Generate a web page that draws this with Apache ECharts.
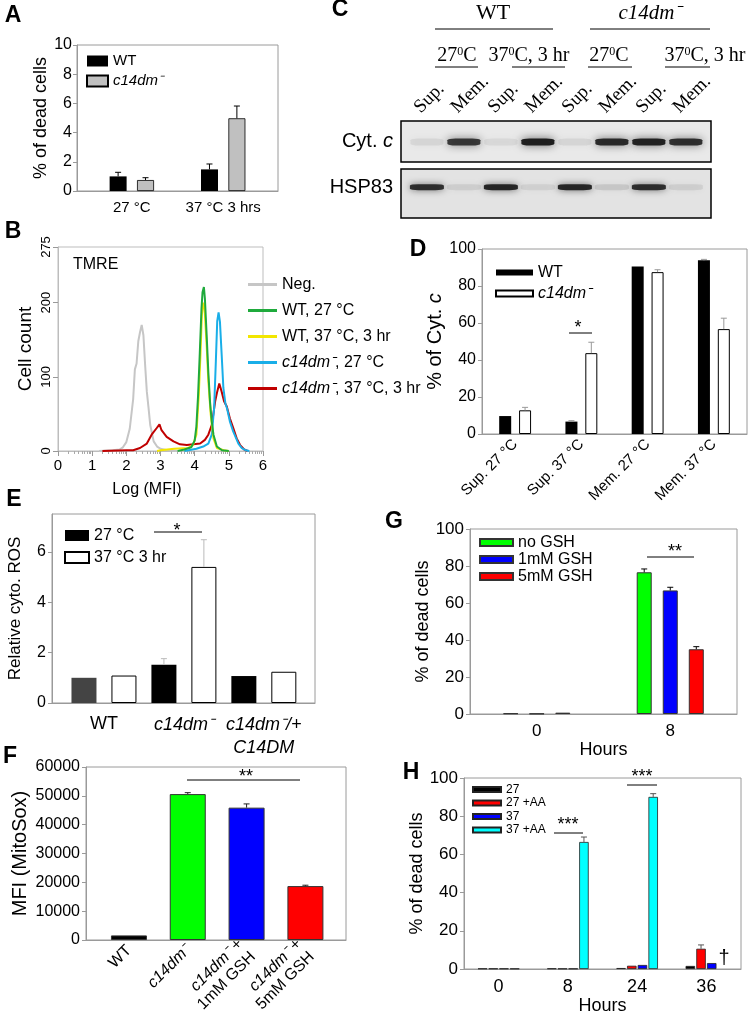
<!DOCTYPE html>
<html><head><meta charset="utf-8">
<script src="https://cdn.jsdelivr.net/npm/echarts@6/dist/echarts.min.js"></script>
<style>html,body{margin:0;padding:0;background:#fff}#c{width:750px;height:1022px}</style>
</head><body><div id="c"></div>
<script>
// ================= DATA =================
// Panel A
const aCategories = ['27 °C', '37 °C 3 hrs'];
const aWT = [1.0, 1.48];
const aWTErr = [0.28, 0.37];
const aMut = [0.75, 4.98];
const aMutErr = [0.16, 0.84];

// Panel B: histograms [log(MFI), cell count]
const bNeg = [[1.2,0],[1.6,1],[1.8,2],[1.9,5],[2.0,12],[2.1,30],[2.2,70],[2.25,110],[2.3,118],[2.35,148],[2.4,160],[2.45,170],[2.5,156],[2.55,116],[2.6,80],[2.65,58],[2.7,35],[2.8,13],[2.9,6],[3.0,3],[3.2,1],[3.5,0]];
const bWT27 = [[3.5,0],[3.7,2],[3.9,5],[4.0,14],[4.05,33],[4.1,75],[4.15,132],[4.2,192],[4.23,214],[4.27,221],[4.3,205],[4.35,157],[4.4,106],[4.45,66],[4.5,40],[4.55,22],[4.65,6],[4.8,1],[5.0,0]];
const bWT37 = [[2.9,0],[3.0,1],[3.4,3],[3.8,4],[3.95,8],[4.05,22],[4.12,75],[4.17,130],[4.21,183],[4.25,200],[4.29,192],[4.35,143],[4.4,94],[4.47,49],[4.55,17],[4.65,4],[4.85,1],[5.0,0]];
const bMut27 = [[3.7,0],[4.05,3],[4.25,6],[4.4,10],[4.5,22],[4.57,58],[4.62,121],[4.66,175],[4.7,187],[4.74,174],[4.79,130],[4.84,85],[4.9,64],[4.95,57],[5.03,40],[5.13,26],[5.28,10],[5.38,4],[5.5,1],[5.6,0]];
const bMut37 = [[1.3,0],[2.0,1],[2.2,1],[2.4,4],[2.6,10],[2.74,22],[2.89,31],[2.97,36],[3.03,28],[3.18,19],[3.38,13],[3.57,9],[3.77,8],[3.96,9],[4.16,10],[4.3,15],[4.4,22],[4.5,35],[4.6,67],[4.66,80],[4.72,91],[4.79,80],[4.86,67],[4.94,60],[5.03,44],[5.13,31],[5.23,17],[5.33,8],[5.45,2],[5.55,0]];
const bYTicks = [0, 100, 200, 275];

// Panel C: western blot lanes and relative band intensities
const cLanes = ['Sup.', 'Mem.', 'Sup.', 'Mem.', 'Sup.', 'Mem.', 'Sup.', 'Mem.'];
const cCytC = [0.07, 0.8, 0.06, 0.95, 0.07, 0.88, 0.92, 0.85];
const cHSP83 = [0.85, 0.08, 0.9, 0.07, 0.9, 0.1, 0.85, 0.08];

// Panel D
const dCategories = ['Sup. 27 °C', 'Sup. 37 °C', 'Mem. 27 °C', 'Mem. 37 °C'];
const dWT = [9.7, 6.7, 90.6, 93.9];
const dWTErr = [0, 0.5, 0, 0.5];
const dMut = [12.8, 43.7, 87.5, 56.7];
const dMutErr = [1.6, 5.9, 1.3, 5.9];

// Panel E
const eCategories = ['WT', 'c14dm⁻', 'c14dm⁻/+\nC14DM'];
const e27 = [1.0, 1.52, 1.07];
const e27Err = [0, 0.24, 0];
const e37 = [1.09, 5.4, 1.24];
const e37Err = [0, 1.08, 0];

// Panel F
const fCategories = ['WT', 'c14dm⁻', 'c14dm⁻ +\n1mM GSH', 'c14dm⁻ +\n5mM GSH'];
const fValues = [1600, 50600, 45900, 18700];
const fErr = [0, 500, 1300, 300];

// Panel G
const gCategories = ['0', '8'];
const gNoGSH = [0.36, 76.6];
const gNoGSHErr = [0, 1.8];
const g1mM = [0.2, 66.8];
const g1mMErr = [0, 1.7];
const g5mM = [0.72, 35.0];
const g5mMErr = [0, 1.4];

// Panel H
const hCategories = ['0', '8', '24', '36'];
const h27 = [0.25, 0.3, 0.5, 1.6];
const h27AA = [0.25, 0.2, 1.7, 10.6];
const h27AAErr = [0, 0, 0, 2.0];
const h37 = [0.25, 0.2, 2.1, 3.1];
const h37AA = [0.2, 66.5, 90.1, null];
const h37AAErr = [0, 2.6, 1.7, 0];

// ================= STYLE / HELPERS =================
const FF = '"Liberation Sans", Arial, Helvetica, sans-serif';
const SERIF = '"Liberation Serif", "Times New Roman", serif';
const AX = '#9a9a9a';

function merge(a, b) {
  for (const k in b) {
    if (b[k] && typeof b[k] === 'object' && !Array.isArray(b[k]) && a[k] && typeof a[k] === 'object' && !Array.isArray(a[k])) merge(a[k], b[k]);
    else a[k] = b[k];
  }
  return a;
}
const RICH = (s) => ({ i: { fontStyle: 'italic', fontSize: s, fontFamily: FF, color: '#000' } });
const ital = (t) => t.split('\n').map(line => line.replace(/c14dm⁻(\/\+)?|C14DM/g, m => '{i|' + m + '}')).join('\n');

function xv(gi, min, max, extra) {
  return merge({
    gridIndex: gi, type: 'value', min, max,
    splitLine: { show: false },
    axisLine: { show: true, onZero: false, lineStyle: { color: AX, width: 1 } },
    axisTick: { show: false },
    axisLabel: { color: '#000', fontFamily: FF, fontSize: 16 },
    nameLocation: 'middle',
    nameTextStyle: { color: '#000', fontFamily: FF }
  }, extra || {});
}
function yv(gi, min, max, interval, extra) {
  return merge({
    gridIndex: gi, type: 'value', min, max, interval,
    splitLine: { show: false },
    axisLine: { show: true, onZero: false, lineStyle: { color: AX, width: 1 } },
    axisTick: { show: true, length: 4, lineStyle: { color: AX } },
    axisLabel: { color: '#000', fontFamily: FF, fontSize: 16, margin: 6 },
    nameLocation: 'middle',
    nameTextStyle: { color: '#000', fontFamily: FF }
  }, extra || {});
}
const barPts = (vals, off) => vals.map((v, i) => [i + off, v]);
const errPts = (vals, errs, off) => vals.map((v, i) => [i + off, v, errs[i]]).filter(p => p[1] != null && p[2] > 0);

function errSeries(xi, yi, pts, color, cap) {
  return {
    type: 'custom', xAxisIndex: xi, yAxisIndex: yi, data: pts, silent: true, z: 4,
    encode: { x: 0, y: 1 },
    renderItem: (params, api) => {
      const x = api.value(0), y = api.value(1), e = api.value(2);
      const p0 = api.coord([x, y]), p1 = api.coord([x, y + e]);
      const st = { stroke: color, lineWidth: 1 };
      return { type: 'group', children: [
        { type: 'line', shape: { x1: p0[0], y1: p0[1], x2: p1[0], y2: p1[1] }, style: st },
        { type: 'line', shape: { x1: p1[0] - cap, y1: p1[1], x2: p1[0] + cap, y2: p1[1] }, style: st }
      ]};
    }
  };
}
function barSeries(name, xi, yi, data, width, style) {
  return { name, type: 'bar', xAxisIndex: xi, yAxisIndex: yi, data, barWidth: width, barGap: '-100%',
    itemStyle: style, emphasis: { disabled: true }, z: 3 };
}
const lineSeries = (name, data, color, w) => ({ name, type: 'line', xAxisIndex: 1, yAxisIndex: 1, data,
  showSymbol: false, symbol: 'none', color, lineStyle: { color, width: w }, z: 3, emphasis: { disabled: true } });

const legendFmt = (name) => ital(name.slice(2));
function legendBox(data, left, top, iw, ih, gap, fs) {
  return { data, left, top, orient: 'vertical', icon: 'rect', itemWidth: iw, itemHeight: ih, itemGap: gap,
    padding: 0, selectedMode: false, formatter: legendFmt,
    textStyle: { fontSize: fs, lineHeight: fs + 1, fontFamily: FF, color: '#000', rich: RICH(fs) } };
}

// log-decade minor tick positions for panel B
const bMinor = [];
for (let i = 0; i < 6; i++) for (let k = 2; k <= 9; k++) bMinor.push(i + Math.log10(k));

// ================= OPTION =================
const gridBox = { show: true, borderColor: AX, borderWidth: 1, backgroundColor: 'transparent' };
const option = {
  animation: false,
  textStyle: { fontFamily: FF },
  grid: [
    merge({ left: 77, top: 45, width: 201, height: 146 }, gridBox),          // 0 A
    merge({ left: 58, top: 247, width: 205, height: 204 }, merge(Object.assign({}, gridBox), { borderColor: '#bdbdbd' })), // 1 B
    { show: true, left: 401, top: 121, width: 310, height: 41, borderColor: '#000', borderWidth: 1.5, backgroundColor: '#e9e9e9' }, // 2 C1
    { show: true, left: 401, top: 169, width: 310, height: 49, borderColor: '#000', borderWidth: 1.5, backgroundColor: '#e3e3e3' }, // 3 C2
    merge({ left: 482, top: 249, width: 265, height: 185 }, gridBox),        // 4 D
    merge({ left: 52, top: 514, width: 263, height: 189 }, gridBox),         // 5 E
    merge({ left: 86, top: 767, width: 260, height: 173 }, gridBox),         // 6 F
    merge({ left: 470, top: 529, width: 267, height: 185 }, gridBox),        // 7 G
    merge({ left: 464, top: 778, width: 277, height: 191 }, gridBox)         // 8 H
  ],
  xAxis: [
    xv(0, -0.6, 1.6, { axisLabel: { customValues: [0, 1], formatter: v => aCategories[Math.round(v)], fontSize: 15, margin: 9 } }),
    xv(1, 0, 6, { interval: 1, axisLine: { lineStyle: { color: '#bdbdbd' } },
      axisTick: { show: true, length: 5, lineStyle: { color: '#999' } },
      axisLabel: { fontSize: 15, margin: 7 }, name: 'Log (MFI)', nameGap: 31,
      nameTextStyle: { fontSize: 16, padding: [0, 27, 0, 0] } }),
    xv(1, 0, 6, { position: 'bottom', axisLine: { show: false }, axisLabel: { show: false },
      axisTick: { show: true, length: 3, customValues: bMinor, lineStyle: { color: '#aaa' } } }),
    xv(2, -0.7, 7.68, { position: 'top', axisLine: { show: false }, axisLabel: { show: false } }),
    xv(3, -0.7, 7.68, { show: false }),
    xv(4, -0.5, 3.5, { axisLabel: { customValues: [0, 1, 2, 3], formatter: v => dCategories[Math.round(v)], rotate: 45, fontSize: 15, margin: 8 } }),
    xv(5, -0.65, 2.64, { axisLabel: { customValues: [0, 1, 2], formatter: v => ital(eCategories[Math.round(v)]), fontSize: 18, lineHeight: 23, margin: 10, rich: { i: { fontStyle: 'italic', fontSize: 18, lineHeight: 23, fontFamily: FF, color: '#000' } } } }),
    xv(6, -0.73, 3.69, { axisLabel: { customValues: [0, 1, 2, 3], formatter: v => ital(fCategories[Math.round(v)]), rotate: 45, fontSize: 16, lineHeight: 18, margin: 8, rich: { i: { fontStyle: 'italic', fontSize: 16, lineHeight: 18, fontFamily: FF, color: '#000' } } } }),
    xv(7, -0.5, 1.5, { axisLabel: { customValues: [0, 1], formatter: v => gCategories[Math.round(v)], fontSize: 17, margin: 9 }, name: 'Hours', nameGap: 16, nameTextStyle: { fontSize: 18 } }),
    xv(8, -0.5, 3.5, { axisLabel: { customValues: [0, 1, 2, 3], formatter: v => hCategories[Math.round(v)], fontSize: 18, margin: 9 }, name: 'Hours', nameGap: 26, nameTextStyle: { fontSize: 18 } })
  ],
  yAxis: [
    yv(0, 0, 10, 2, { name: '% of dead cells', nameGap: 26, nameTextStyle: { fontSize: 18 }, axisLabel: { margin: 5 } }),
    yv(1, 0, 275, null, { axisLine: { lineStyle: { color: '#bdbdbd' } },
      axisTick: { customValues: bYTicks, length: 5, lineStyle: { color: '#999' } },
      axisLabel: { customValues: bYTicks, rotate: 90, fontSize: 13, margin: 5 },
      name: 'Cell count', nameGap: 23, nameTextStyle: { fontSize: 19 } }),
    yv(2, 0, 1, null, { axisLine: { show: false }, axisTick: { show: false },
      axisLabel: { customValues: [0.49], formatter: () => 'Cyt. {i|c}', fontSize: 20, margin: 8, rich: RICH(20) } }),
    yv(3, 0, 1, null, { axisLine: { show: false }, axisTick: { show: false },
      axisLabel: { customValues: [0.63], formatter: () => 'HSP83', fontSize: 20, margin: 8 } }),
    yv(4, 0, 100, 20, { name: '% of Cyt. {i|c}', nameGap: 35, nameTextStyle: { fontSize: 20, rich: RICH(20) } }),
    yv(5, 0, 7.5, null, { axisLabel: { customValues: [0, 2, 4, 6] }, axisTick: { customValues: [0, 2, 4, 6] },
      name: 'Relative cyto. ROS', nameGap: 28, nameTextStyle: { fontSize: 17 } }),
    yv(6, 0, 60000, 10000, { axisLabel: { formatter: v => String(v) }, name: 'MFI (MitoSox)', nameGap: 56, nameTextStyle: { fontSize: 20 } }),
    yv(7, 0, 100, 20, { axisLabel: { fontSize: 17 }, name: '% of dead cells', nameGap: 33, nameTextStyle: { fontSize: 18 } }),
    yv(8, 0, 100, 20, { axisLabel: { fontSize: 17 }, name: '% of dead cells', nameGap: 33, nameTextStyle: { fontSize: 18 } })
  ],
  legend: [
    legendBox(['A:WT', 'A:c14dm⁻'], 86, 53, 21, 11, 4, 15),
    legendBox(['B:Neg.', 'B:WT, 27 °C', 'B:WT, 37 °C, 3 hr', 'B:c14dm⁻, 27 °C', 'B:c14dm⁻, 37 °C, 3 hr'], 248, 276, 29, 3, 9, 16),
    legendBox(['D:WT', 'D:c14dm⁻'], 495, 264, 37, 6, 4, 16),
    legendBox(['E:27 °C', 'E:37 °C 3 hr'], 64, 527, 24, 11, 5, 16),
    legendBox(['G:no GSH', 'G:1mM GSH', 'G:5mM GSH'], 479, 534, 33, 7, 0, 16),
    legendBox(['H:27', 'H:27 +AA', 'H:37', 'H:37 +AA'], 472, 783, 28, 5, 0.5, 12)
  ],
  series: [
    // A
    barSeries('A:WT', 0, 0, barPts(aWT, -0.15), 17, { color: '#000' }),
    barSeries('A:c14dm⁻', 0, 0, barPts(aMut, 0.15), 17, { color: '#c0c0c0', borderColor: '#000', borderWidth: 0.8 }),
    errSeries(0, 0, errPts(aWT, aWTErr, -0.15).concat(errPts(aMut, aMutErr, 0.15)), '#000', 3),
    // B
    lineSeries('B:Neg.', bNeg, '#c6c6c6', 2),
    lineSeries('B:c14dm⁻, 37 °C, 3 hr', bMut37, '#c00000', 2),
    lineSeries('B:c14dm⁻, 27 °C', bMut27, '#19aee8', 2),
    lineSeries('B:WT, 37 °C, 3 hr', bWT37, '#f2e600', 2),
    lineSeries('B:WT, 27 °C', bWT27, '#1faa3c', 2),
    // C blot bands
    { type: 'scatter', xAxisIndex: 3, yAxisIndex: 2, symbol: 'roundRect', symbolSize: [33, 7], silent: true,
      data: cCytC.map((v, i) => ({ value: [i, 0.49], itemStyle: { opacity: v } })),
      itemStyle: { color: '#161616', shadowBlur: 8, shadowColor: 'rgba(0,0,0,0.6)' } },
    { type: 'scatter', xAxisIndex: 4, yAxisIndex: 3, symbol: 'roundRect', symbolSize: [34, 6], silent: true,
      data: cHSP83.map((v, i) => ({ value: [i, 0.63], itemStyle: { opacity: v } })),
      itemStyle: { color: '#161616', shadowBlur: 7, shadowColor: 'rgba(0,0,0,0.6)' } },
    // D
    barSeries('D:WT', 5, 4, barPts(dWT, -0.15), 12, { color: '#000' }),
    barSeries('D:c14dm⁻', 5, 4, barPts(dMut, 0.15), 12, { color: '#fff', borderColor: '#000', borderWidth: 1 }),
    errSeries(5, 4, errPts(dWT, dWTErr, -0.15).concat(errPts(dMut, dMutErr, 0.15)), '#999', 3),
    // E
    barSeries('E:27 °C', 6, 5, barPts(e27, -0.25).map((p, i) => ({ value: p, itemStyle: { color: i === 0 ? '#444' : '#000' } })), 25, { color: '#000' }),
    barSeries('E:37 °C 3 hr', 6, 5, barPts(e37, 0.25), 25, { color: '#fff', borderColor: '#000', borderWidth: 1 }),
    errSeries(6, 5, errPts(e27, e27Err, -0.25).concat(errPts(e37, e37Err, 0.25)), '#bbb', 3),
    // F
    barSeries('F:MFI', 7, 6, barPts(fValues, 0).map((p, i) => ({ value: p, itemStyle: { color: ['#000', '#00ff00', '#0000ff', '#ff0000'][i] } })), 36, { borderColor: '#333', borderWidth: 1 }),
    errSeries(7, 6, errPts(fValues, fErr, 0), '#222', 3),
    // G
    barSeries('G:no GSH', 8, 7, barPts(gNoGSH, -0.195), 15, { color: '#00ff00', borderColor: '#333', borderWidth: 1 }),
    barSeries('G:1mM GSH', 8, 7, barPts(g1mM, 0), 15, { color: '#0000ff', borderColor: '#333', borderWidth: 1 }),
    barSeries('G:5mM GSH', 8, 7, barPts(g5mM, 0.195), 15, { color: '#ff0000', borderColor: '#333', borderWidth: 1 }),
    errSeries(8, 7, errPts(gNoGSH, gNoGSHErr, -0.195).concat(errPts(g1mM, g1mMErr, 0), errPts(g5mM, g5mMErr, 0.195)), '#000', 3),
    // H
    barSeries('H:27', 9, 8, barPts(h27, -0.232), 9.5, { color: '#000', borderColor: '#222', borderWidth: 0.8 }),
    barSeries('H:27 +AA', 9, 8, barPts(h27AA, -0.077), 9.5, { color: '#ff0000', borderColor: '#222', borderWidth: 0.8 }),
    barSeries('H:37', 9, 8, barPts(h37, 0.077), 9.5, { color: '#0000ff', borderColor: '#222', borderWidth: 0.8 }),
    barSeries('H:37 +AA', 9, 8, barPts(h37AA, 0.232), 9.5, { color: '#00ffff', borderColor: '#222', borderWidth: 0.8 }),
    errSeries(9, 8, errPts(h27AA, h27AAErr, -0.077).concat(errPts(h37AA, h37AAErr, 0.232)), '#555', 3)
  ]
};

// ================= ANNOTATIONS =================
function T(x, y, text, o) {
  return { type: 'text', x, y, silent: true, z: 10,
    style: Object.assign({ text, fill: '#000', fontFamily: FF, fontSize: 16, align: 'center', verticalAlign: 'middle' }, o || {}) };
}
function L(x1, y1, x2, y2, o) {
  return { type: 'line', silent: true, z: 10, shape: { x1, y1, x2, y2 }, style: Object.assign({ stroke: '#000', lineWidth: 1 }, o || {}) };
}
const SUP = { s: { fontSize: 12, verticalAlign: 'top', fontFamily: SERIF, fill: '#000' } };
const g = [];
[['A', 13, 16], ['B', 13, 232], ['C', 340, 10], ['D', 418, 250], ['E', 14, 500], ['F', 10, 757], ['G', 394, 522], ['H', 411, 773]]
  .forEach(([t, x, y]) => g.push(T(x, y, t, { fontSize: 23, fontWeight: 'bold' })));
g.push(T(73, 265, 'TMRE', { align: 'left', fontSize: 16 }));
// C header
g.push(T(493, 13, 'WT', { fontFamily: SERIF, fontSize: 22 }));
g.push(T(650, 13, 'c14dm⁻', { fontFamily: SERIF, fontSize: 21, fontStyle: 'italic' }));
g.push(L(435, 29, 553, 29), L(590, 29, 710, 29));
[[457, '27{s|0}C'], [529, '37{s|0}C, 3 hr'], [609, '27{s|0}C'], [705, '37{s|0}C, 3 hr']]
  .forEach(([x, t]) => g.push(T(x, 56, t, { fontFamily: SERIF, fontSize: 20, rich: SUP })));
g.push(L(435, 67, 478, 67), L(512, 67, 565, 67), L(588, 67, 632, 67), L(665, 67, 710, 67));
// significance marks
g.push(L(569, 333, 592, 333), T(578, 328, '*', { fontSize: 18 }));
g.push(L(154, 532, 202, 532), T(177, 531, '*', { fontSize: 18 }));
g.push(L(187, 780, 300, 780), T(246, 777, '**', { fontSize: 18 }));
g.push(L(647, 557, 694, 557), T(675, 552, '**', { fontSize: 18 }));
g.push(L(554, 833, 583, 833), T(568, 825, '***', { fontSize: 18 }));
g.push(L(627, 785, 657, 785), T(642, 777, '***', { fontSize: 18 }));
g.push(T(724, 958, '†', { fontSize: 20 }));
option.graphic = g;

const chart = echarts.init(document.getElementById('c'), null, { renderer: 'canvas', width: 750, height: 1022 });
chart.setOption(option);

// rotated lane labels above the blot, placed at each lane through the blot's x axis
const laneLabels = cLanes.map((t, i) => {
  const px = chart.convertToPixel({ xAxisIndex: 3 }, i);
  const el = T(px - 3, 117, t, { align: 'left', verticalAlign: 'bottom', fontFamily: SERIF, fontSize: 19 });
  el.rotation = Math.PI / 4;
  return el;
});
chart.setOption({ graphic: g.concat(laneLabels) });
</script>
</body></html>
